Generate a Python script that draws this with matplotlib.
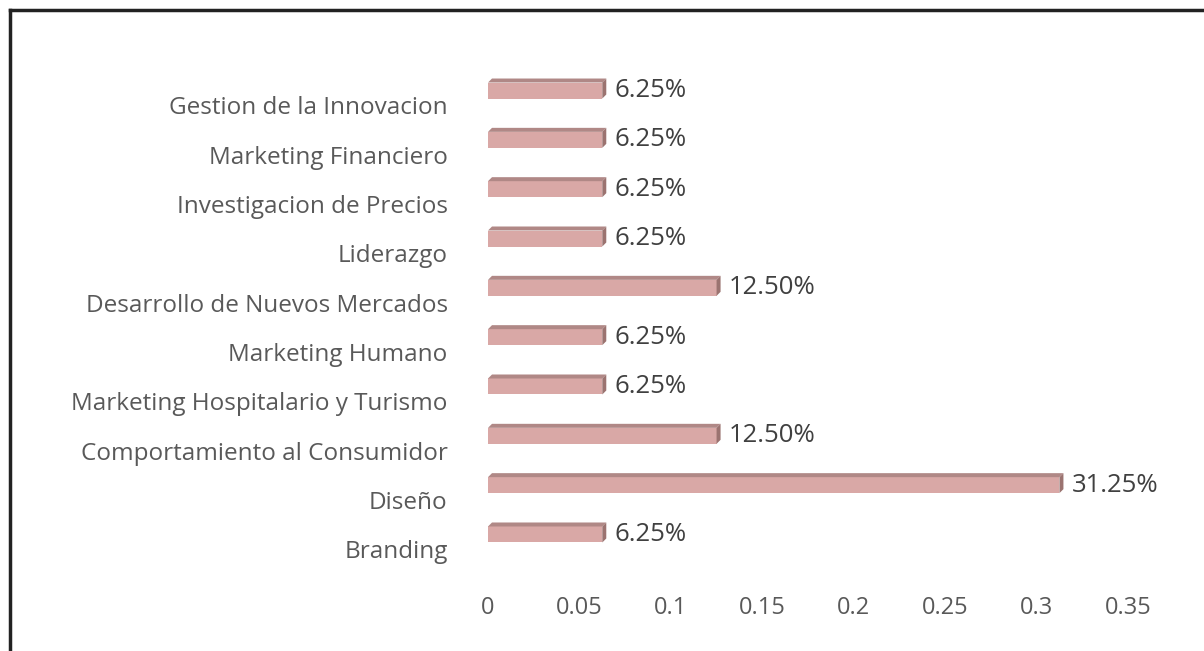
import matplotlib
matplotlib.use("Agg")
import matplotlib.pyplot as plt
from matplotlib.patches import Polygon
from matplotlib.lines import Line2D

categories = ["Branding", "Diseño", "Comportamiento al Consumidor",
              "Marketing Hospitalario y Turismo", "Marketing Humano",
              "Desarrollo de Nuevos Mercados", "Liderazgo",
              "Investigacion de Precios", "Marketing Financiero",
              "Gestion de la Innovacion"]
values = [0.0625, 0.3125, 0.125, 0.0625, 0.0625, 0.125, 0.0625, 0.0625, 0.0625, 0.0625]
value_labels = ["6.25%", "31.25%", "12.50%", "6.25%", "6.25%", "12.50%",
                "6.25%", "6.25%", "6.25%", "6.25%"]
xticks = [0, 0.05, 0.1, 0.15, 0.2, 0.25, 0.3, 0.35]
xtick_labels = ["0", "0.05", "0.1", "0.15", "0.2", "0.25", "0.3", "0.35"]

plt.rcParams['font.family'] = ['Open Sans', 'DejaVu Sans']

W, H = 1204, 651
fig = plt.figure(figsize=(W / 100, H / 100), dpi=100)
left_px, right_px = 488, 1128
top_px, bot_px = 55, 570
ax = fig.add_axes([left_px / W, 1 - bot_px / H, (right_px - left_px) / W, (bot_px - top_px) / H])
ylo, yhi = -0.42, 10.02
ax.set_xlim(0, 0.35)
ax.set_ylim(ylo, yhi)

px_x = (right_px - left_px) / 0.35
px_y = (bot_px - top_px) / (yhi - ylo)
dx = 4 / px_x
dy = 4 / px_y
shift = 0.30
bh = 16 / px_y

front = "#D9A8A6"
topc = "#B08886"
sidec = "#9B7370"

ypos = [i + shift for i in range(len(categories))]
ax.barh(ypos, values, height=bh, color=front, edgecolor="none", zorder=2)
for y, v, lab in zip(ypos, values, value_labels):
    t = y + bh / 2
    b = y - bh / 2
    ax.add_patch(Polygon([(0, t), (v, t), (v + dx, t + dy), (dx, t + dy)],
                         closed=True, facecolor=topc, edgecolor="none", zorder=2))
    ax.add_patch(Polygon([(v, b), (v + dx, b + dy), (v + dx, t + dy), (v, t)],
                         closed=True, facecolor=sidec, edgecolor="none", zorder=2))
    ax.text(v + dx + 8 / px_x, y, lab, va="center", ha="left",
            fontsize=18.5, color="#404040")

ax.set_yticks(range(len(categories)))
ax.set_yticklabels(categories, fontsize=17.5, color="#595959")
ax.set_xticks(xticks)
ax.set_xticklabels(xtick_labels, fontsize=17, color="#595959")
ax.tick_params(axis="y", length=0, pad=29)
ax.tick_params(axis="x", length=0, pad=19)
for s in ax.spines.values():
    s.set_visible(False)

fig.add_artist(Line2D([10 / W, 10 / W], [0, 1 - 10 / H], transform=fig.transFigure,
                      color="#222222", lw=2.5))
fig.add_artist(Line2D([10 / W, 1], [1 - 10 / H, 1 - 10 / H], transform=fig.transFigure,
                      color="#222222", lw=2.5))

fig.savefig("out.png", dpi=100, facecolor="white")
